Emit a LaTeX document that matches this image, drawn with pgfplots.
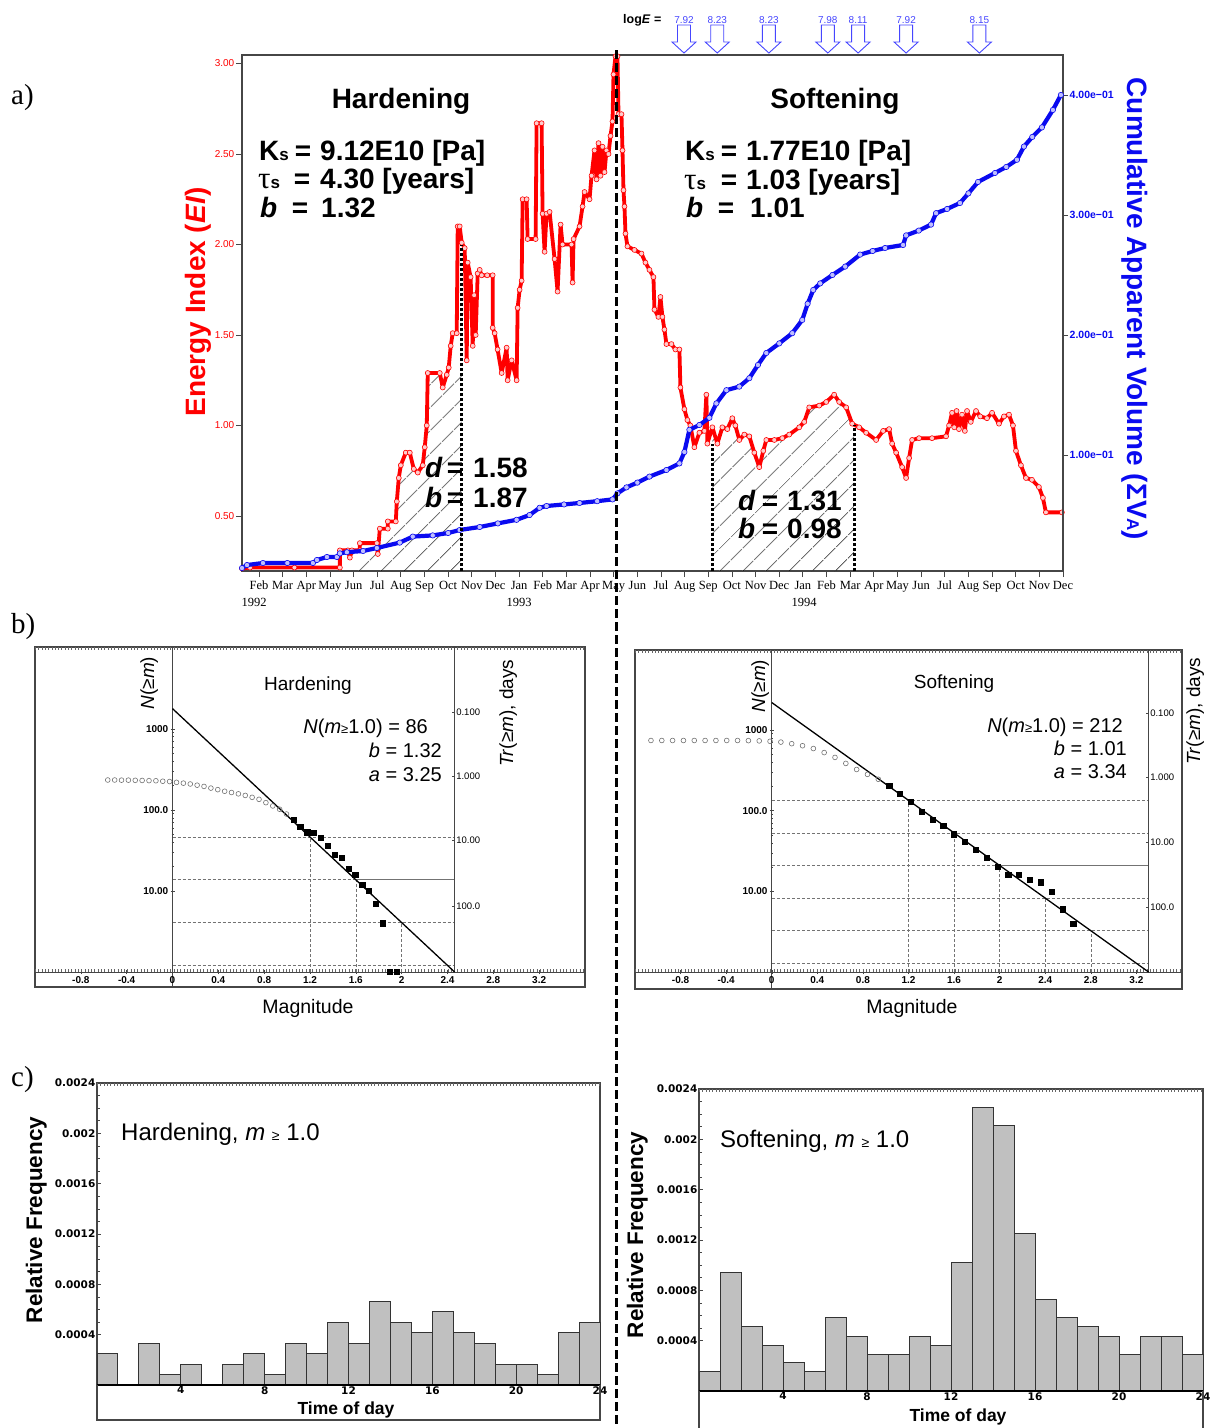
\documentclass[border=0pt]{standalone}
\usepackage{pgfplots}
\pgfplotsset{compat=1.18}
\usepackage{fontspec}
\setmainfont{Liberation Sans}
\newfontfamily\seriffont{Liberation Serif}
\newfontfamily\widefont{DejaVu Sans}
\usetikzlibrary{patterns.meta}

\newcommand\fs[1]{\fontsize{#1}{#1}\selectfont}
\newcommand\Ks{K{\fs{17}s}}
\newcommand\taus{{\seriffont\mdseries\fs{31}τ}{\fs{17}s}}

\definecolor{eired}{RGB}{255,0,0}
\definecolor{cvblue}{RGB}{10,10,240}
\definecolor{evblue}{RGB}{70,70,255}
\definecolor{barfill}{RGB}{192,192,192}
\definecolor{framegray}{RGB}{70,70,70}

% hollow arrow pointing down, tip at the mark position
\pgfdeclareplotmark{hollowarrow}{%
  \pgfpathmoveto{\pgfpoint{0pt}{0pt}}%
  \pgfpathlineto{\pgfpoint{-12pt}{11pt}}%
  \pgfpathlineto{\pgfpoint{-6.5pt}{11pt}}%
  \pgfpathlineto{\pgfpoint{-6.5pt}{28pt}}%
  \pgfpathlineto{\pgfpoint{6.5pt}{28pt}}%
  \pgfpathlineto{\pgfpoint{6.5pt}{11pt}}%
  \pgfpathlineto{\pgfpoint{12pt}{11pt}}%
  \pgfpathclose
  \pgfusepathqfillstroke}

\tikzset{
  gridln/.style={draw=black!55, line width=0.6pt, dash pattern=on 3pt off 2pt},
  fineticks/.style={draw=black!60, line width=2.4pt, dash pattern=on 0.7pt off 2.6pt},
}

\begin{document}
\begin{tikzpicture}
\useasboundingbox (0pt,0pt) rectangle (1214pt,-1428pt);

% ---------------- a) Energy index (left axis)
\begin{axis}[
  at={(242pt,-571pt)}, anchor=south west,
  scale only axis, width=821pt, height=516pt,
  xmin=0.282, xmax=35.0, ymin=0.196, ymax=3.047,
  clip=false,
  axis line style={draw=framegray, line width=1.1pt},
  xtick pos=left, ytick pos=left,
  tick align=outside, major tick length=6pt,
  tick style={draw=framegray, line width=0.8pt},
  xtick={1,...,35},
  xticklabels={Feb,Mar,Apr,May,Jun,Jul,Aug,Sep,Oct,Nov,Dec,Jan,Feb,Mar,Apr,May,Jun,Jul,Aug,Sep,Oct,Nov,Dec,Jan,Feb,Mar,Apr,May,Jun,Jul,Aug,Sep,Oct,Nov,Dec},
  xticklabel style={font={\seriffont\fs{12.5}}, inner sep=1pt, yshift=-3pt},
  ytick={0.5,1,1.5,2,2.5,3},
  yticklabels={0.50,1.00,1.50,2.00,2.50,3.00},
  yticklabel style={font=\fs{10}, text=eired, inner sep=1.5pt},
]
% hatched intervals
\addplot[draw=none, pattern={Lines[angle=45,distance=17pt,line width=0.7pt]}, pattern color=black, forget plot]
coordinates {(4.843,0.196) (4.843,0.31) (5.265,0.31) (5.265,0.35) (5.983,0.35) (6.110,0.43) (6.448,0.43) (6.448,0.47) (6.786,0.47) (6.828,0.58) (6.912,0.71) (6.997,0.78) (7.208,0.85) (7.377,0.85) (7.546,0.76) (7.715,0.74) (7.926,0.78) (8.010,0.88) (8.095,1.00) (8.137,1.29) (9.573,1.29) (9.573,0.196)};
\addplot[draw=none, pattern={Lines[angle=45,distance=17pt,line width=0.7pt]}, pattern color=black, forget plot]
coordinates {(20.173,0.196) (20.173,0.99) (20.384,0.90) (20.595,0.99) (20.806,0.98) (21.017,1.04) (21.144,1.00) (21.313,0.92) (21.524,0.95) (21.735,0.94) (21.946,0.85) (22.157,0.77) (22.326,0.86) (22.453,0.92) (22.791,0.92) (23.129,0.93) (23.424,0.95) (23.847,0.99) (24.058,1.02) (24.269,1.10) (24.691,1.11) (24.987,1.13) (25.324,1.17) (25.536,1.13) (25.831,1.10) (26.085,1.01) (26.17,1.00) (26.17,0.196)};
% energy index
\addplot[eired, line width=3.8pt, line join=round, mark=*, mark size=2.5pt,
  mark options={solid, fill=red!20, draw=eired, line width=0.6pt}]
coordinates {(0.282,0.21) (0.620,0.215) (2.5,0.215) (4.421,0.215) (4.421,0.31) (4.758,0.31) (4.843,0.27) (4.927,0.31) (5.265,0.31) (5.265,0.35) (5.983,0.35) (6.025,0.29) (6.110,0.43) (6.448,0.43) (6.448,0.47) (6.786,0.47) (6.828,0.58) (6.912,0.71) (6.997,0.78) (7.208,0.85) (7.377,0.85) (7.546,0.76) (7.715,0.74) (7.926,0.78) (8.010,0.88) (8.095,1.00) (8.137,1.29) (8.644,1.29) (8.770,1.21) (8.939,1.28) (9.024,1.32) (9.108,1.44) (9.193,1.51) (9.362,1.51) (9.404,2.10) (9.488,2.10) (9.573,2.01) (9.700,1.98) (9.784,1.36) (9.826,1.90) (9.950,1.82) (10.038,1.44) (10.100,1.72) (10.164,1.50) (10.249,1.84) (10.333,1.86) (10.417,1.83) (10.650,1.83) (10.882,1.83) (10.882,1.54) (10.966,1.51) (11.090,1.42) (11.262,1.29) (11.473,1.43) (11.515,1.25) (11.684,1.36) (11.895,1.25) (11.938,1.65) (12.022,1.75) (12.107,1.80) (12.149,2.25) (12.318,2.25) (12.360,2.03) (12.698,2.03) (12.740,2.67) (12.951,2.67) (12.993,2.17) (13.078,1.96) (13.160,2.17) (13.289,2.18) (13.500,1.92) (13.627,1.74) (13.754,2.11) (13.838,2.00) (14.218,2.00) (14.261,1.79) (14.303,2.03) (14.556,2.10) (14.683,2.21) (14.767,2.29) (14.978,2.25) (15.063,2.38) (15.189,2.52) (15.274,2.36) (15.358,2.56) (15.443,2.38) (15.527,2.54) (15.612,2.40) (15.696,2.52) (15.781,2.50) (15.865,2.60) (15.949,2.68) (15.992,2.94) (16.076,3.04) (16.160,3.04) (16.203,2.72) (16.329,2.72) (16.372,2.52) (16.414,2.30) (16.456,2.21) (16.498,2.06) (16.583,1.99) (16.878,1.97) (17.174,1.95) (17.343,1.90) (17.512,1.86) (17.681,1.82) (17.723,1.64) (17.892,1.60) (17.977,1.71) (18.061,1.60) (18.145,1.53) (18.230,1.45) (18.441,1.45) (18.610,1.42) (18.779,1.42) (18.821,1.21) (18.990,1.09) (19.117,1.03) (19.243,1.00) (19.412,0.88) (19.623,0.96) (19.835,0.97) (19.919,1.17) (19.961,0.90) (20.173,0.99) (20.384,0.90) (20.595,0.99) (20.806,0.98) (21.017,1.04) (21.144,1.00) (21.313,0.92) (21.524,0.95) (21.735,0.94) (21.946,0.85) (22.157,0.77) (22.326,0.86) (22.453,0.92) (22.791,0.92) (23.129,0.93) (23.424,0.95) (23.847,0.99) (24.058,1.02) (24.269,1.10) (24.691,1.11) (24.987,1.13) (25.324,1.17) (25.536,1.13) (25.831,1.10) (26.085,1.01) (26.380,0.99) (26.676,0.96) (27.098,0.92) (27.394,0.97) (27.647,0.98) (27.774,0.90) (27.943,0.85) (28.196,0.77) (28.365,0.71) (28.492,0.82) (28.618,0.92) (28.914,0.93) (29.463,0.93) (30.054,0.94) (30.181,1.00) (30.308,1.07) (30.40,0.99) (30.50,1.08) (30.60,0.98) (30.73,1.06) (30.85,0.97) (30.941,1.08) (31.10,1.02) (31.321,1.08) (31.50,1.05) (31.786,1.04) (32.0,1.07) (32.293,1.01) (32.504,1.05) (32.715,1.06) (32.884,1.00) (33.010,0.86) (33.221,0.78) (33.433,0.71) (33.686,0.70) (33.981,0.66) (34.151,0.60) (34.277,0.52) (34.953,0.52)};
% large events
\addplot[only marks, mark=hollowarrow, mark options={draw=evblue, fill=white, line width=0.9pt}]
coordinates {(18.973,3.058) (20.379,3.058) (22.563,3.058) (25.054,3.058) (26.334,3.058) (28.365,3.058) (31.465,3.058)};
\foreach \t/\e in {18.973/7.92, 20.379/8.23, 22.563/8.23, 25.054/7.98, 26.334/8.11, 28.365/7.92, 31.465/8.15}{
  \edef\tmp{\noexpand\node[anchor=base, inner sep=0pt, font=\noexpand\fs{10}, text=evblue, yshift=30pt] at (axis cs:\t,3.058) {\e};}\tmp
}
\coordinate (dA0) at (axis cs:9.573,0.196);
\coordinate (dA1) at (axis cs:9.573,2.0);
\coordinate (dB0) at (axis cs:20.173,0.196);
\coordinate (dB1) at (axis cs:20.173,0.90);
\coordinate (dC0) at (axis cs:26.17,0.196);
\coordinate (dC1) at (axis cs:26.17,1.0);
\end{axis}

% ---------------- a) Cumulative apparent volume (right axis)
\begin{axis}[
  at={(242pt,-571pt)}, anchor=south west,
  scale only axis, width=821pt, height=516pt,
  xmin=0.282, xmax=35.0, ymin=0.00333, ymax=0.4333,
  clip=false,
  axis x line=none, axis y line*=right,
  axis line style={draw=framegray, line width=1.1pt},
  tick align=outside, major tick length=5pt,
  tick style={draw=framegray, line width=0.8pt},
  scaled y ticks=false,
  ytick={0.1,0.2,0.3,0.4},
  yticklabels={1.00e−01,2.00e−01,3.00e−01,4.00e−01},
  yticklabel style={font=\bfseries\fs{10.5}, text=cvblue, inner sep=1.5pt},
]
\addplot[cvblue, line width=4.2pt, line join=round, mark=*, mark size=2.7pt,
  mark options={solid, fill=blue!25, draw=cvblue, line width=0.6pt}]
coordinates {(0.282,0.0058) (0.493,0.0083) (1.169,0.010) (2.2,0.010) (3.281,0.010) (3.449,0.0125) (3.872,0.015) (4.294,0.015) (4.421,0.018) (4.717,0.019) (5.4,0.020) (5.983,0.0225) (6.954,0.027) (7.503,0.032) (8.348,0.033) (9.0,0.035) (9.488,0.0375) (10.333,0.040) (11.1,0.043) (11.895,0.046) (12.444,0.050) (12.867,0.056) (13.162,0.0575) (13.9,0.0588) (14.556,0.060) (15.3,0.0615) (15.949,0.063) (16.160,0.068) (16.540,0.073) (17.0,0.077) (17.512,0.082) (18.230,0.0875) (18.779,0.093) (18.990,0.1025) (19.201,0.121) (19.623,0.125) (20.046,0.131) (20.342,0.143) (20.764,0.154) (21.313,0.157) (21.735,0.164) (22.1,0.175) (22.453,0.185) (23.002,0.193) (23.551,0.2015) (23.973,0.2125) (24.2,0.226) (24.438,0.2375) (24.733,0.243) (25.25,0.250) (25.789,0.257) (26.422,0.267) (26.95,0.270) (27.478,0.2725) (28.238,0.275) (28.365,0.283) (28.9,0.287) (29.420,0.292) (29.632,0.3015) (30.1,0.305) (30.645,0.310) (31.0,0.318) (31.405,0.3275) (32.123,0.335) (32.6,0.340) (33.052,0.346) (33.348,0.357) (33.7,0.365) (34.108,0.373) (34.572,0.3875) (34.910,0.40)};
\end{axis}

% interval boundaries
\draw[black, line width=2.6pt, dash pattern=on 2.6pt off 2.4pt] (dA0) -- (dA1);
\draw[black, line width=2.6pt, dash pattern=on 2.6pt off 2.4pt] (dB0) -- (dB1);
\draw[black, line width=2.6pt, dash pattern=on 2.6pt off 2.4pt] (dC0) -- (dC1);

% ---------------- b) Gutenberg-Richter, hardening
\begin{axis}[at={(35pt,-987pt)}, anchor=south west, scale only axis, width=550pt, height=340pt,
  xmin=-1.2, xmax=3.6, ymode=log, ymin=0.653, ymax=10240,
  axis x line=middle, axis y line=middle,
  axis line style={draw=framegray, line width=0.8pt, -},
  hide obscured x ticks=false, hide obscured y ticks=false,
  xtick={-0.8,-0.4,0,0.4,0.8,1.2,1.6,2,2.4,2.8,3.2},
  xticklabels={-0.8,-0.4,0,0.4,0.8,1.2,1.6,2,2.4,2.8,3.2},
  ytick={10,100,1000}, yticklabels={10.00,100.0,1000},
  ticklabel style={font=\bfseries\fs{10}, inner sep=2pt},
  major tick length=4pt, minor tick length=2pt,
  tick style={draw=framegray, line width=0.5pt},
  clip=false]
\draw[framegray, line width=1.3pt] (rel axis cs:0,0) rectangle (rel axis cs:1,1);
\draw[fineticks] ([yshift=-1.5pt]rel axis cs:0,1) -- ([yshift=-1.5pt]rel axis cs:1,1);
\draw[fineticks] ([yshift=1.5pt]axis cs:-1.2,1) -- ([yshift=1.5pt]axis cs:3.6,1);
\draw[gridln] (axis cs:0,46.35) -- (axis cs:2.462,46.35);
\draw[gridln] (axis cs:0,13.74) -- (axis cs:1.6,13.74);
\draw[draw=black!55, line width=0.6pt] (axis cs:1.6,13.74) -- (axis cs:2.462,13.74);
\draw[gridln] (axis cs:0,4.074) -- (axis cs:2.462,4.074);
\draw[gridln] (axis cs:0,1.208) -- (axis cs:2.462,1.208);
\draw[gridln] (axis cs:1.2,1) -- (axis cs:1.2,46.35);
\draw[gridln] (axis cs:1.6,1) -- (axis cs:1.6,13.74);
\draw[gridln] (axis cs:2.0,1) -- (axis cs:2.0,4.074);
% recurrence-time axis
\draw[framegray, line width=0.8pt] (axis cs:2.462,1) -- (axis cs:2.462,10240);
\foreach \n/\l in {1622/0.100, 263/1.000, 41.7/10.00, 6.53/100.0}{
  \edef\tmp{\noexpand\draw[framegray, line width=0.5pt] (axis cs:2.462,\n) -- ++(-3pt,0pt);
  \noexpand\node[anchor=west, inner sep=1.5pt, font=\noexpand\fs{9.5}] at (axis cs:2.462,\n) {\l};}\tmp
}
\addplot[only marks, mark=o, mark size=2.4pt, mark options={draw=black!55, line width=0.6pt}]
coordinates {(0.995,89) (0.935,102) (0.875,112) (0.815,123) (0.755,135) (0.695,143) (0.635,151) (0.575,158) (0.515,164) (0.455,170) (0.395,178) (0.335,186) (0.275,195) (0.215,202) (0.155,209) (0.095,214) (0.035,219) (-0.025,224) (-0.085,226) (-0.145,229) (-0.205,230) (-0.265,231) (-0.325,232) (-0.385,233) (-0.445,233) (-0.505,234) (-0.565,234)};
\addplot[black, line width=1.3pt] coordinates {(0,1778) (2.462,1)};
\addplot[only marks, mark=square*, mark size=2.6pt, black]
coordinates {(1.055,76) (1.115,62) (1.175,53) (1.235,52) (1.295,45) (1.355,36) (1.415,28) (1.475,26) (1.535,19) (1.595,16) (1.655,12) (1.715,10) (1.775,7) (1.835,4) (1.895,1) (1.955,1)};
\end{axis}

% ---------------- b) Gutenberg-Richter, softening
\begin{axis}[at={(635pt,-989pt)}, anchor=south west, scale only axis, width=547pt, height=339pt,
  xmin=-1.2, xmax=3.6, ymode=log, ymin=0.616, ymax=9800,
  axis x line=middle, axis y line=middle,
  axis line style={draw=framegray, line width=0.8pt, -},
  hide obscured x ticks=false, hide obscured y ticks=false,
  xtick={-0.8,-0.4,0,0.4,0.8,1.2,1.6,2,2.4,2.8,3.2},
  xticklabels={-0.8,-0.4,0,0.4,0.8,1.2,1.6,2,2.4,2.8,3.2},
  ytick={10,100,1000}, yticklabels={10.00,100.0,1000},
  ticklabel style={font=\bfseries\fs{10}, inner sep=2pt},
  major tick length=4pt, minor tick length=2pt,
  tick style={draw=framegray, line width=0.5pt},
  clip=false]
\draw[framegray, line width=1.3pt] (rel axis cs:0,0) rectangle (rel axis cs:1,1);
\draw[fineticks] ([yshift=-1.5pt]rel axis cs:0,1) -- ([yshift=-1.5pt]rel axis cs:1,1);
\draw[fineticks] ([yshift=1.5pt]axis cs:-1.2,1) -- ([yshift=1.5pt]axis cs:3.6,1);
\draw[gridln] (axis cs:0,134.3) -- (axis cs:3.307,134.3);
\draw[gridln] (axis cs:0,52.97) -- (axis cs:3.307,52.97);
\draw[gridln] (axis cs:0,20.89) -- (axis cs:2.0,20.89);
\draw[draw=black!55, line width=0.6pt] (axis cs:2.0,20.89) -- (axis cs:3.307,20.89);
\draw[gridln] (axis cs:0,8.241) -- (axis cs:3.307,8.241);
\draw[gridln] (axis cs:0,3.251) -- (axis cs:3.307,3.251);
\draw[gridln] (axis cs:0,1.282) -- (axis cs:3.307,1.282);
\draw[gridln] (axis cs:1.2,1) -- (axis cs:1.2,134.3);
\draw[gridln] (axis cs:1.6,1) -- (axis cs:1.6,52.97);
\draw[gridln] (axis cs:2.0,1) -- (axis cs:2.0,20.89);
\draw[gridln] (axis cs:2.4,1) -- (axis cs:2.4,8.241);
\draw[gridln] (axis cs:2.8,1) -- (axis cs:2.8,3.251);
\draw[framegray, line width=0.8pt] (axis cs:3.307,1) -- (axis cs:3.307,9800);
\foreach \n/\l in {1632/0.100, 258.5/1.000, 41/10.00, 6.3/100.0}{
  \edef\tmp{\noexpand\draw[framegray, line width=0.5pt] (axis cs:3.307,\n) -- ++(-3pt,0pt);
  \noexpand\node[anchor=west, inner sep=1.5pt, font=\noexpand\fs{9.5}] at (axis cs:3.307,\n) {\l};}\tmp
}
\addplot[only marks, mark=o, mark size=2.4pt, mark options={draw=black!55, line width=0.6pt}]
coordinates {(0.935,245) (0.84,282) (0.745,324) (0.65,385) (0.555,457) (0.46,525) (0.365,589) (0.27,638) (0.175,676) (0.08,708) (-0.015,724) (-0.11,733) (-0.205,738) (-0.30,741) (-0.395,741) (-0.49,741) (-0.585,741) (-0.68,741) (-0.775,741) (-0.87,741) (-0.965,741) (-1.06,741)};
\addplot[black, line width=1.3pt] coordinates {(0,2188) (3.307,1)};
\addplot[only marks, mark=square*, mark size=2.6pt, black]
coordinates {(1.03,205) (1.125,162) (1.22,129) (1.315,98) (1.41,78) (1.505,65) (1.60,51) (1.695,41) (1.79,33) (1.885,26) (1.98,20) (2.075,16) (2.17,16) (2.265,14) (2.36,13) (2.455,10) (2.55,6) (2.645,4)};
\end{axis}

% ---------------- c) time-of-day histograms
\begin{axis}[at={(97pt,-1385pt)}, anchor=south west, scale only axis, width=503pt, height=302pt,
  xmin=0, xmax=24, ymin=0, ymax=0.0024,
  axis line style={draw=framegray, line width=1.2pt},
  xtick={4,8,12,16,20,24}, xticklabels={4,8,12,16,20,24},
  ytick={0.0004,0.0008,0.0012,0.0016,0.002,0.0024},
  yticklabels={0.0004,0.0008,0.0012,0.0016,0.002,0.0024},
  scaled y ticks=false, xtick pos=left, ytick pos=left,
  ticklabel style={font=\widefont\bfseries\fs{10.5}},
  xticklabel style={inner sep=1pt},
  yticklabel style={inner sep=1.5pt},
  major tick length=4pt, minor tick length=2.5pt,
  minor x tick num=1, minor y tick num=3,
  tick style={draw=framegray, line width=0.6pt},
  clip=false]
\draw[fineticks] ([yshift=-1.5pt]rel axis cs:0,1) -- ([yshift=-1.5pt]rel axis cs:1,1);
\addplot[ybar interval, fill=barfill, draw=black!80, line width=1pt]
coordinates {(0,0.00025) (1,0) (2,0.000333) (3,0.0000833) (4,0.000167) (5,0) (6,0.000167) (7,0.00025) (8,0.0000833) (9,0.000333) (10,0.00025) (11,0.0005) (12,0.000333) (13,0.000667) (14,0.0005) (15,0.000417) (16,0.000583) (17,0.000417) (18,0.000333) (19,0.000167) (20,0.000167) (21,0.0000833) (22,0.000417) (23,0.0005) (24,0)};
\draw[black, line width=2pt] (axis cs:0,0) -- (axis cs:24,0);
\end{axis}
\begin{axis}[at={(699pt,-1391pt)}, anchor=south west, scale only axis, width=504pt, height=302pt,
  xmin=0, xmax=24, ymin=0, ymax=0.0024,
  axis line style={draw=framegray, line width=1.2pt},
  xtick={4,8,12,16,20,24}, xticklabels={4,8,12,16,20,24},
  ytick={0.0004,0.0008,0.0012,0.0016,0.002,0.0024},
  yticklabels={0.0004,0.0008,0.0012,0.0016,0.002,0.0024},
  scaled y ticks=false, xtick pos=left, ytick pos=left,
  ticklabel style={font=\widefont\bfseries\fs{10.5}},
  xticklabel style={inner sep=1pt},
  yticklabel style={inner sep=1.5pt},
  major tick length=4pt, minor tick length=2.5pt,
  minor x tick num=1, minor y tick num=3,
  tick style={draw=framegray, line width=0.6pt},
  clip=false]
\draw[fineticks] ([yshift=-1.5pt]rel axis cs:0,1) -- ([yshift=-1.5pt]rel axis cs:1,1);
\addplot[ybar interval, fill=barfill, draw=black!80, line width=1pt]
coordinates {(0,0.000152) (1,0.000944) (2,0.000512) (3,0.000365) (4,0.000224) (5,0.000152) (6,0.000587) (7,0.000437) (8,0.000293) (9,0.000293) (10,0.000437) (11,0.000365) (12,0.00102) (13,0.00225) (14,0.00211) (15,0.00125) (16,0.00073) (17,0.000587) (18,0.000512) (19,0.000437) (20,0.000293) (21,0.000437) (22,0.000437) (23,0.000293) (24,0)};
\draw[black, line width=2pt] (axis cs:0,0) -- (axis cs:24,0);
\end{axis}

\begin{scope}[x=1pt, y=-1pt]
% histogram frames below the time axis
\draw[framegray, line width=1.2pt] (97,1385) -- (97,1420) -- (600,1420) -- (600,1385);
\draw[framegray, line width=1.2pt] (699,1391) -- (699,1440);
\draw[framegray, line width=1.2pt] (1203,1391) -- (1203,1440);

% panel letters
\node[anchor=base west, inner sep=0pt, font={\seriffont\fs{29}}] at (11,104) {a)};
\node[anchor=base west, inner sep=0pt, font={\seriffont\fs{29}}] at (11,633) {b)};
\node[anchor=base west, inner sep=0pt, font={\seriffont\fs{29}}] at (11,1086) {c)};

% a) axis titles
\node[rotate=90, anchor=base, inner sep=0pt, text=eired, font=\bfseries\fs{28}] at (205,302) {Energy Index (\textit{EI})};
\node[rotate=-90, anchor=base, inner sep=0pt, text=cvblue, font=\bfseries\fs{28}] at (1127,309) {Cumulative Apparent Volume (ΣV{\fs{17}A})};
\node[anchor=base, inner sep=0pt, font={\seriffont\fs{12.5}}] at (254,606) {1992};
\node[anchor=base, inner sep=0pt, font={\seriffont\fs{12.5}}] at (519,606) {1993};
\node[anchor=base, inner sep=0pt, font={\seriffont\fs{12.5}}] at (804,606) {1994};
\node[anchor=base west, inner sep=0pt, font=\bfseries\fs{12.5}] at (623,23) {log\textit{E} =};

% a) regime parameters
\begin{scope}[every node/.style={inner sep=0pt, font=\bfseries\fs{28}}]
\node[anchor=base] at (401,108) {Hardening};
\node[anchor=base west] at (259,160) {\Ks};
\node[anchor=base] at (303,160) {=};
\node[anchor=base west] at (320,160) {9.12E10 [Pa]};
\node[anchor=base west] at (258,188) {\taus};
\node[anchor=base] at (302,188) {=};
\node[anchor=base west] at (320,188) {4.30 [years]};
\node[anchor=base west] at (260,217) {\textit{b}};
\node[anchor=base] at (300,217) {=};
\node[anchor=base west] at (321,217) {1.32};

\node[anchor=base] at (835,108) {Softening};
\node[anchor=base west] at (685,160) {\Ks};
\node[anchor=base] at (729,160) {=};
\node[anchor=base west] at (746,160) {1.77E10 [Pa]};
\node[anchor=base west] at (684,189) {\taus};
\node[anchor=base] at (729,189) {=};
\node[anchor=base west] at (746,189) {1.03 [years]};
\node[anchor=base west] at (686,217) {\textit{b}};
\node[anchor=base] at (726,217) {=};
\node[anchor=base west] at (750,217) {1.01};

\node[anchor=base west] at (425,477) {\textit{d}};
\node[anchor=base] at (455,477) {=};
\node[anchor=base west] at (473,477) {1.58};
\node[anchor=base west] at (425,507) {\textit{b}};
\node[anchor=base] at (455,507) {=};
\node[anchor=base west] at (473,507) {1.87};

\node[anchor=base west] at (738,510) {\textit{d}};
\node[anchor=base] at (770,510) {=};
\node[anchor=base west] at (787,510) {1.31};
\node[anchor=base west] at (738,538) {\textit{b}};
\node[anchor=base] at (770,538) {=};
\node[anchor=base west] at (787,538) {0.98};
\end{scope}

% b) labels
\node[anchor=base, inner sep=0pt, font=\fs{19}] at (308,690) {Hardening};
\node[anchor=base east, inner sep=0pt, font=\fs{20}] at (428,733) {\textit{N}(\textit{m}{\fs{13}≥}1.0) = 86};
\node[anchor=base east, inner sep=0pt, font=\fs{20}] at (442,757) {\textit{b} = 1.32};
\node[anchor=base east, inner sep=0pt, font=\fs{20}] at (442,781) {\textit{a} = 3.25};
\node[rotate=90, anchor=base, inner sep=0pt, font=\fs{19}] at (154,683) {\textit{N}(≥\textit{m})};
\node[rotate=90, anchor=base, inner sep=0pt, font=\fs{19}] at (513,713) {\textit{Tr}(≥\textit{m}), days};
\node[anchor=base, inner sep=0pt, font=\fs{19.5}] at (308,1013) {Magnitude};

\node[anchor=base, inner sep=0pt, font=\fs{19}] at (954,688) {Softening};
\node[anchor=base east, inner sep=0pt, font=\fs{20}] at (1123,732) {\textit{N}(\textit{m}{\fs{13}≥}1.0) = 212};
\node[anchor=base east, inner sep=0pt, font=\fs{20}] at (1127,755) {\textit{b} = 1.01};
\node[anchor=base east, inner sep=0pt, font=\fs{20}] at (1127,778) {\textit{a} = 3.34};
\node[rotate=90, anchor=base, inner sep=0pt, font=\fs{19}] at (765,686) {\textit{N}(≥\textit{m})};
\node[rotate=90, anchor=base, inner sep=0pt, font=\fs{19}] at (1200,711) {\textit{Tr}(≥\textit{m}), days};
\node[anchor=base, inner sep=0pt, font=\fs{19.5}] at (912,1013) {Magnitude};

% c) labels
\node[anchor=base west, inner sep=0pt, font=\fs{24}] at (121,1140) {Hardening, \textit{m} {\fs{14}≥} 1.0};
\node[anchor=base west, inner sep=0pt, font=\fs{24}] at (720,1147) {Softening, \textit{m} {\fs{14}≥} 1.0};
\node[rotate=90, anchor=base, inner sep=0pt, font=\bfseries\fs{22.5}] at (42,1220) {Relative Frequency};
\node[rotate=90, anchor=base, inner sep=0pt, font=\bfseries\fs{22.5}] at (643,1235) {Relative Frequency};
\node[anchor=base, inner sep=0pt, font=\bfseries\fs{17.5}] at (346,1414) {Time of day};
\node[anchor=base, inner sep=0pt, font=\bfseries\fs{17.5}] at (958,1421) {Time of day};

% regime change
\draw[black, line width=3pt, dash pattern=on 9pt off 4pt] (616,50) -- (616,1430);
\end{scope}
\end{tikzpicture}
\end{document}
